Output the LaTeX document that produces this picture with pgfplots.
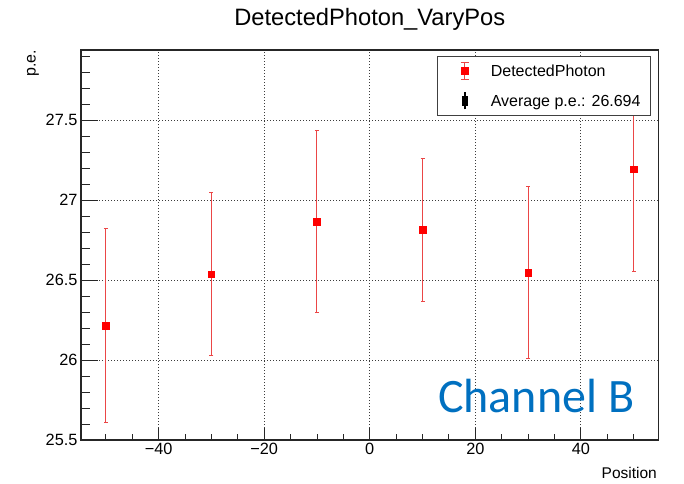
\documentclass[border=0pt]{standalone}
\usepackage{fontspec}
\setmainfont{Liberation Sans}
\newfontfamily\carlito{Carlito}
\usepackage{pgfplots}
\usepackage{pgfplotstable}
\pgfplotsset{compat=1.18}
\definecolor{chanblue}{RGB}{0,112,192}
\definecolor{errred}{RGB}{235,70,70}
\definecolor{gridgray}{RGB}{60,60,60}

\pgfplotstableread{
x    y       e
-50  26.215  0.607
-30  26.538  0.508
-10  26.866  0.568
 10  26.816  0.448
 30  26.548  0.540
 50  27.194  0.640
}\datatable

\begin{document}
\begin{tikzpicture}[x=1pt,y=1pt]
\useasboundingbox (0,0) rectangle (684,483);
\begin{axis}[
  at={(81pt,43pt)}, anchor=south west,
  scale only axis, width=577.5pt, height=390pt,
  xmin=-54.7, xmax=54.7, ymin=25.5, ymax=27.94,
  xtick={-40,-20,0,20,40}, xticklabels={−40,−20,0,20,40},
  ytick={25.5,26,26.5,27,27.5}, yticklabels={25.5,26,26.5,27,27.5},
  minor xtick={-50,-45,...,50},
  minor ytick={25.6,25.7,25.8,25.9,26.1,26.2,26.3,26.4,26.6,26.7,26.8,26.9,27.1,27.2,27.3,27.4,27.6,27.7,27.8,27.9},
  tick align=inside, xtick pos=left, ytick pos=left,
  xtick style={/pgfplots/major tick length=11.7pt,/pgfplots/minor tick length=5.9pt},
  ytick style={/pgfplots/major tick length=17pt,/pgfplots/minor tick length=8.7pt},
  every tick/.style={black!85, line width=0.9pt},
  axis line style={black!85, line width=1.1pt},
  grid=major,
  major grid style={gridgray, line width=0.9pt, dash pattern=on 1pt off 2pt},
  tick label style={font=\fontsize{16.3}{19}\selectfont},
  legend style={at={(1,1)}, anchor=north east, xshift=-7.5pt, yshift=-6pt,
    draw=black!75, line width=0.9pt, fill=white,
    inner xsep=10pt, inner ysep=0pt, row sep=1pt,
    font=\fontsize{16}{19}\selectfont,
    nodes={inner sep=0pt, text height=11.5pt, text depth=0pt}},
  legend cell align=left,
]
\addplot[only marks, mark=square*, mark size=3.3pt, red, mark options={draw=red, fill=red},
  legend image code/.code={
    \path[draw=none, fill=none] (0pt,-14.5pt) rectangle (43pt,14.5pt);
    \draw[errred, line width=1pt] (17pt,-8.7pt) -- (17pt,8.7pt);
    \draw[errred, line width=1pt] (13pt,8.7pt) -- (21pt,8.7pt) (13pt,-8.7pt) -- (21pt,-8.7pt);
    \fill[red] (13.6pt,-3.4pt) rectangle (20.4pt,3.4pt);
  },
  error bars/.cd, y dir=both, y explicit,
  error bar style={errred, line width=1pt},
  error mark options={errred, line width=1pt, mark size=2pt, rotate=90}]
  table[x=x, y=y, y error=e] {\datatable};
\addlegendentry{DetectedPhoton}
\addlegendimage{legend image code/.code={
  \path[draw=none, fill=none] (0pt,-14.5pt) rectangle (43pt,14.5pt);
  \draw[black, line width=1.4pt] (17pt,-8.5pt) -- (17pt,8.5pt);
  \fill[black] (14.8pt,-4.2pt) rectangle (19.2pt,4.2pt);
}}
\addlegendentry{Average p.e.: 26.694}
\end{axis}
\node[anchor=base, font=\fontsize{23.7}{28}\selectfont, inner sep=0pt] at (369.75,457) {DetectedPhoton\_VaryPos};
\node[anchor=base east, font=\fontsize{15.5}{18}\selectfont, inner sep=0pt] at (657,5) {Position};
\node[rotate=90, anchor=base east, font=\fontsize{16}{19}\selectfont, inner sep=0pt] at (35.5,433) {p.e.};
\node[anchor=base west, font=\carlito\fontsize{48}{57}\selectfont, text=chanblue, inner sep=0pt] at (438,71) {Channel B};
\end{tikzpicture}
\end{document}
